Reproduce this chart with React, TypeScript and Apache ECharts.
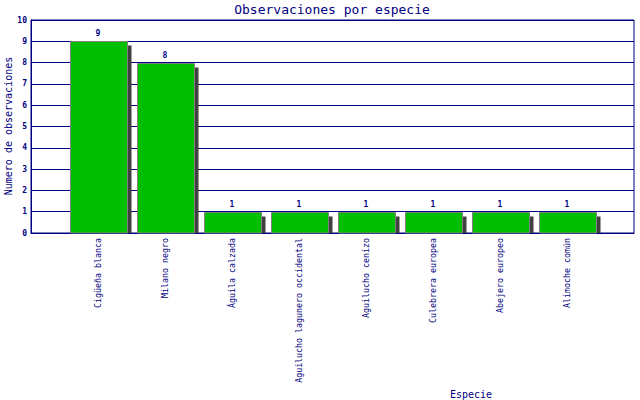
import React, { useEffect, useRef } from "react";
import * as echarts from "echarts";

const categories = [
  "Cigüeña blanca",
  "Milano negro",
  "Águila calzada",
  "Aguilucho lagunero occidental",
  "Aguilucho cenizo",
  "Culebrera europea",
  "Abejero europeo",
  "Alimoche común",
];
const values = [9, 8, 1, 1, 1, 1, 1, 1];
const yTicks = { min: 0, max: 10, interval: 1 };

const NAVY = "#000080";
const MONO = "'DejaVu Sans Mono', 'Liberation Mono', monospace";

export default function App() {
  const ref = useRef<HTMLDivElement>(null);
  useEffect(() => {
    document.body.style.margin = "0";
    if (!ref.current) return;
    const chart = echarts.init(ref.current, undefined, { renderer: "svg" });
    const axisData = ["", ...categories, ""];
    const seriesData = values.map((v, i) => [i + 1, v]);
    chart.setOption({
      animation: false,
      backgroundColor: "#ffffff",
      grid: {
        left: 31,
        top: 20,
        right: 6,
        bottom: 167,
        show: true,
        borderColor: NAVY,
        borderWidth: 1,
        backgroundColor: "transparent",
      },
      xAxis: {
        type: "category",
        data: axisData,
        boundaryGap: false,
        axisLine: { show: true, lineStyle: { color: NAVY, width: 1 } },
        axisTick: { show: false },
        splitLine: { show: false },
        axisLabel: {
          interval: 0,
          rotate: 90,
          margin: 5,
          color: NAVY,
          fontFamily: MONO,
          fontSize: 8.3,
        },
      },
      yAxis: {
        type: "value",
        min: yTicks.min,
        max: yTicks.max,
        interval: yTicks.interval,
        axisLine: { show: true, lineStyle: { color: NAVY, width: 1 } },
        axisTick: { show: false },
        splitLine: { show: true, lineStyle: { color: NAVY, width: 1 } },
        axisLabel: {
          margin: 4,
          color: NAVY,
          fontFamily: MONO,
          fontSize: 8,
          fontWeight: "bold",
        },
      },
      graphic: [
        {
          type: "text",
          x: 332,
          y: 9,
          style: {
            text: "Observaciones por especie",
            fill: NAVY,
            font: `13px ${MONO}`,
            align: "center",
            verticalAlign: "middle",
          },
        },
        {
          type: "text",
          x: 8,
          y: 126,
          rotation: Math.PI / 2,
          style: {
            text: "Numero de observaciones",
            fill: NAVY,
            font: `10px ${MONO}`,
            align: "center",
            verticalAlign: "middle",
          },
        },
        {
          type: "text",
          x: 471,
          y: 394,
          style: {
            text: "Especie",
            fill: NAVY,
            font: `10px ${MONO}`,
            align: "center",
            verticalAlign: "middle",
          },
        },
      ],
      series: [
        {
          type: "custom",
          data: seriesData,
          clip: false,
          renderItem: (params: any, api: any) => {
            const idx = api.value(0);
            const v = api.value(1);
            const top = api.coord([idx, v]);
            const base = api.coord([idx, 0]);
            const w = 57;
            const x = Math.round(top[0] - w / 2) + 0.5;
            const yTop = Math.round(top[1]) + 0.5;
            const yBase = base[1];
            return {
              type: "group",
              children: [
                {
                  type: "rect",
                  shape: { x: x + 4, y: yTop + 4, width: w, height: yBase - yTop - 4 },
                  style: { fill: "#404040" },
                },
                {
                  type: "rect",
                  shape: { x: x, y: yTop, width: w, height: yBase - yTop },
                  style: { fill: "#00bf00", stroke: "#808080", lineWidth: 1 },
                },
                {
                  type: "text",
                  x: top[0],
                  y: yTop - 8,
                  style: {
                    text: String(v),
                    fill: NAVY,
                    font: `bold 8px ${MONO}`,
                    align: "center",
                    verticalAlign: "middle",
                  },
                },
              ],
            };
          },
        },
      ],
    });
    return () => chart.dispose();
  }, []);
  return (
    <div
      ref={ref}
      style={{ position: "fixed", left: 0, top: 0, width: 640, height: 400 }}
    />
  );
}
